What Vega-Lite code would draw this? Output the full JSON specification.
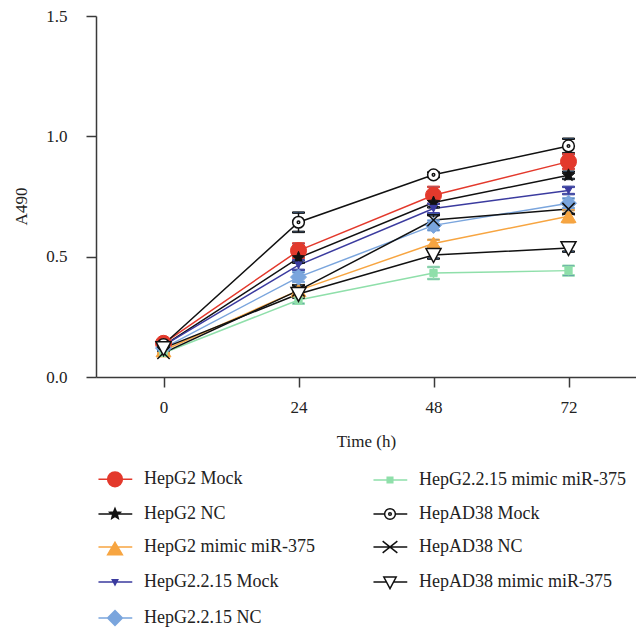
{
  "$schema": "https://vega.github.io/schema/vega-lite/v6.json",
  "autosize": "none",
  "padding": {"left": 96, "top": 16, "right": 0, "bottom": 251},
  "width": 540,
  "height": 361,
  "background": "white",
  "config": {
    "view": {"stroke": null},
    "font": "Liberation Serif",
    "axis": {
      "grid": false,
      "domainColor": "#3a3a3a",
      "domainWidth": 1.5,
      "tickColor": "#3a3a3a",
      "tickWidth": 1.5,
      "tickSize": 10,
      "labelFont": "Liberation Serif",
      "labelFontSize": 17,
      "labelColor": "#222222",
      "titleFont": "Liberation Serif",
      "titleFontSize": 17,
      "titleFontWeight": "normal",
      "titleColor": "#222222"
    }
  },
  "data": {
    "values": [
      {"series": "HepG2 Mock", "t": 0, "a490": 0.14, "err": 0.01},
      {"series": "HepG2 Mock", "t": 24, "a490": 0.525, "err": 0.03},
      {"series": "HepG2 Mock", "t": 48, "a490": 0.755, "err": 0.035},
      {"series": "HepG2 Mock", "t": 72, "a490": 0.895, "err": 0.03},
      {"series": "HepG2 NC", "t": 0, "a490": 0.13, "err": 0.01},
      {"series": "HepG2 NC", "t": 24, "a490": 0.495, "err": 0.02},
      {"series": "HepG2 NC", "t": 48, "a490": 0.725, "err": 0.02},
      {"series": "HepG2 NC", "t": 72, "a490": 0.838, "err": 0.015},
      {"series": "HepG2 mimic miR-375", "t": 0, "a490": 0.11, "err": 0.01},
      {"series": "HepG2 mimic miR-375", "t": 24, "a490": 0.36, "err": 0.02},
      {"series": "HepG2 mimic miR-375", "t": 48, "a490": 0.555, "err": 0.015},
      {"series": "HepG2 mimic miR-375", "t": 72, "a490": 0.668, "err": 0.025},
      {"series": "HepG2.2.15 Mock", "t": 0, "a490": 0.13, "err": 0.01},
      {"series": "HepG2.2.15 Mock", "t": 24, "a490": 0.465, "err": 0.02},
      {"series": "HepG2.2.15 Mock", "t": 48, "a490": 0.7, "err": 0.02},
      {"series": "HepG2.2.15 Mock", "t": 72, "a490": 0.775, "err": 0.015},
      {"series": "HepG2.2.15 NC", "t": 0, "a490": 0.12, "err": 0.01},
      {"series": "HepG2.2.15 NC", "t": 24, "a490": 0.415, "err": 0.02},
      {"series": "HepG2.2.15 NC", "t": 48, "a490": 0.63, "err": 0.02},
      {"series": "HepG2.2.15 NC", "t": 72, "a490": 0.722, "err": 0.02},
      {"series": "HepG2.2.15 mimic miR-375", "t": 0, "a490": 0.1, "err": 0.01},
      {"series": "HepG2.2.15 mimic miR-375", "t": 24, "a490": 0.32, "err": 0.015},
      {"series": "HepG2.2.15 mimic miR-375", "t": 48, "a490": 0.432, "err": 0.025},
      {"series": "HepG2.2.15 mimic miR-375", "t": 72, "a490": 0.442, "err": 0.02},
      {"series": "HepAD38 Mock", "t": 0, "a490": 0.135, "err": 0.01},
      {"series": "HepAD38 Mock", "t": 24, "a490": 0.643, "err": 0.04},
      {"series": "HepAD38 Mock", "t": 48, "a490": 0.84, "err": 0.01},
      {"series": "HepAD38 Mock", "t": 72, "a490": 0.96, "err": 0.03},
      {"series": "HepAD38 NC", "t": 0, "a490": 0.1, "err": 0.01},
      {"series": "HepAD38 NC", "t": 24, "a490": 0.36, "err": 0.02},
      {"series": "HepAD38 NC", "t": 48, "a490": 0.652, "err": 0.02},
      {"series": "HepAD38 NC", "t": 72, "a490": 0.698, "err": 0.02},
      {"series": "HepAD38 mimic miR-375", "t": 0, "a490": 0.12, "err": 0.01},
      {"series": "HepAD38 mimic miR-375", "t": 24, "a490": 0.345, "err": 0.015},
      {"series": "HepAD38 mimic miR-375", "t": 48, "a490": 0.507, "err": 0.015},
      {"series": "HepAD38 mimic miR-375", "t": 72, "a490": 0.536, "err": 0.015}
    ]
  },
  "layer": [
    {
      "mark": {"type": "line", "strokeWidth": 1.5, "opacity": 1},
      "encoding": {
        "x": {"field": "t", "type": "quantitative", "title": "Time (h)",
          "scale": {"domain": [-12, 84], "nice": false, "zero": false},
          "axis": {"values": [0, 24, 48, 72], "labelPadding": 12, "labelFlush": false, "titleY": 69, "titleBaseline": "alphabetic"}},
        "y": {"field": "a490", "type": "quantitative", "title": "A490",
          "scale": {"domain": [0, 1.5], "nice": false},
          "axis": {"values": [0, 0.5, 1, 1.5], "format": ".1f", "labelPadding": 19, "titleX": -70, "titleY": 190, "titleAlign": "center", "titleBaseline": "alphabetic", "titleAngle": -90}},
        "stroke": {"field": "series", "type": "nominal",
          "scale": {"domain": ["HepG2 Mock", "HepG2 NC", "HepG2 mimic miR-375", "HepG2.2.15 Mock", "HepG2.2.15 NC", "HepG2.2.15 mimic miR-375", "HepAD38 Mock", "HepAD38 NC", "HepAD38 mimic miR-375"],
            "range": ["#e3392c", "#111111", "#f7a541", "#3b3b9f", "#7aa5dd", "#8fdfaa", "#111111", "#111111", "#111111"]}}
      }
    },
    {
      "mark": {"type": "errorbar", "thickness": 1.5, "opacity": 1, "rule": {"opacity": 1}, "ticks": {"size": 12, "thickness": 1.5, "opacity": 1}},
      "encoding": {
        "x": {"field": "t", "type": "quantitative"},
        "y": {"field": "a490", "type": "quantitative", "title": "A490"},
        "yError": {"field": "err"},
        "stroke": {"field": "series", "type": "nominal"}
      }
    },
    {
      "transform": [{"filter": {"field": "series", "equal": "HepG2 Mock"}}],
      "mark": {"type": "point", "shape": "circle", "size": 256, "filled": true, "fill": "#e3392c", "stroke": "#e3392c", "strokeWidth": 1, "opacity": 1},
      "encoding": {"x": {"field": "t", "type": "quantitative"}, "y": {"field": "a490", "type": "quantitative"}}
    },
    {
      "transform": [{"filter": {"field": "series", "equal": "HepG2 NC"}}],
      "mark": {"type": "point", "shape": "M0,-1L0.264,-0.364L0.951,-0.309L0.428,0.139L0.588,0.809L0,0.45L-0.588,0.809L-0.428,0.139L-0.951,-0.309L-0.264,-0.364Z", "size": 169, "filled": true, "fill": "#111111", "stroke": "#111111", "strokeWidth": 1, "opacity": 1},
      "encoding": {"x": {"field": "t", "type": "quantitative"}, "y": {"field": "a490", "type": "quantitative"}}
    },
    {
      "transform": [{"filter": {"field": "series", "equal": "HepG2 mimic miR-375"}}],
      "mark": {"type": "point", "shape": "M0,-0.85L1,0.85L-1,0.85Z", "size": 225, "filled": true, "fill": "#f7a541", "stroke": "#f7a541", "strokeWidth": 1, "opacity": 1},
      "encoding": {"x": {"field": "t", "type": "quantitative"}, "y": {"field": "a490", "type": "quantitative"}}
    },
    {
      "transform": [{"filter": {"field": "series", "equal": "HepG2.2.15 Mock"}}],
      "mark": {"type": "point", "shape": "M0,0.85L1,-0.85L-1,-0.85Z", "size": 56, "filled": true, "fill": "#3b3b9f", "stroke": "#3b3b9f", "strokeWidth": 1, "opacity": 1},
      "encoding": {"x": {"field": "t", "type": "quantitative"}, "y": {"field": "a490", "type": "quantitative"}}
    },
    {
      "transform": [{"filter": {"field": "series", "equal": "HepG2.2.15 NC"}}],
      "mark": {"type": "point", "shape": "M0,-1L1,0L0,1L-1,0Z", "size": 256, "filled": true, "fill": "#7aa5dd", "stroke": "#7aa5dd", "strokeWidth": 1, "opacity": 1},
      "encoding": {"x": {"field": "t", "type": "quantitative"}, "y": {"field": "a490", "type": "quantitative"}}
    },
    {
      "transform": [{"filter": {"field": "series", "equal": "HepG2.2.15 mimic miR-375"}}],
      "mark": {"type": "point", "shape": "square", "size": 53, "filled": true, "fill": "#8fdfaa", "stroke": "#8fdfaa", "strokeWidth": 1, "opacity": 1},
      "encoding": {"x": {"field": "t", "type": "quantitative"}, "y": {"field": "a490", "type": "quantitative"}}
    },
    {
      "transform": [{"filter": {"field": "series", "equal": "HepAD38 Mock"}}],
      "mark": {"type": "point", "shape": "M1,0A1,1 0 1,1 -1,0A1,1 0 1,1 1,0ZM0.22,0A0.22,0.22 0 1,1 -0.22,0A0.22,0.22 0 1,1 0.22,0Z", "size": 137, "filled": true, "fill": "#ffffff", "stroke": "#111111", "strokeWidth": 1.5, "opacity": 1},
      "encoding": {"x": {"field": "t", "type": "quantitative"}, "y": {"field": "a490", "type": "quantitative"}}
    },
    {
      "transform": [{"filter": {"field": "series", "equal": "HepAD38 NC"}}],
      "mark": {"type": "point", "shape": "M-1,-1L1,1M-1,1L1,-1", "size": 151, "filled": false, "stroke": "#111111", "strokeWidth": 1.5, "opacity": 1},
      "encoding": {"x": {"field": "t", "type": "quantitative"}, "y": {"field": "a490", "type": "quantitative"}}
    },
    {
      "transform": [{"filter": {"field": "series", "equal": "HepAD38 mimic miR-375"}}],
      "mark": {"type": "point", "shape": "M-1,-0.85L1,-0.85L0,1Z", "size": 225, "filled": true, "fill": "#ffffff", "stroke": "#111111", "strokeWidth": 1.5, "opacity": 1},
      "encoding": {"x": {"field": "t", "type": "quantitative"}, "y": {"field": "a490", "type": "quantitative"}}
    },
    {
      "transform": [{"filter": {"field": "t", "equal": -1}}],
      "mark": {"type": "point", "filled": true, "opacity": 1},
      "encoding": {
        "x": {"field": "t", "type": "quantitative"},
        "y": {"field": "a490", "type": "quantitative"},
        "shape": {"field": "series", "type": "nominal",
          "scale": {"domain": ["HepG2 Mock", "HepG2 NC", "HepG2 mimic miR-375", "HepG2.2.15 Mock", "HepG2.2.15 NC", "HepG2.2.15 mimic miR-375", "HepAD38 Mock", "HepAD38 NC", "HepAD38 mimic miR-375"],
            "range": [
              "M-2.25,0H2.35M1,0A1,1 0 1,1 -1,0A1,1 0 1,1 1,0Z",
              "M-2.25,0H2.35M0,-0.75L0.194,-0.267L0.713,-0.232L0.314,0.102L0.441,0.607L0,0.33L-0.441,0.607L-0.314,0.102L-0.713,-0.232L-0.194,-0.267Z",
              "M-2.25,0H2.35M0,-0.64L1,1.04L-1,1.04Z",
              "M-2.25,0H2.35M-0.37,-0.3L0.37,-0.3L0,0.4Z",
              "M-2.25,0H2.35M0,-1L1,0L0,1L-1,0Z",
              "M-2.25,0H2.35M-0.38,-0.38H0.38V0.38H-0.38Z",
              "M-2.25,0H-0.73M0.73,0H2.35M0.73,0A0.73,0.73 0 1,1 -0.73,0A0.73,0.73 0 1,1 0.73,0ZM0.18,0A0.18,0.18 0 1,1 -0.18,0A0.18,0.18 0 1,1 0.18,0Z",
              "M-2.25,0H2.35M-1,-0.8L1,0.8M-1,0.8L1,-0.8",
              "M-2.25,0H-0.48M0.48,0H2.35M-0.84,-0.68L0.84,-0.68L0,0.9Z"
            ]},
          "legend": {
            "title": null,
            "orient": "none",
            "legendX": 10,
            "legendY": 454,
            "columns": 2,
            "columnPadding": 55,
            "rowPadding": 15,
            "padding": 0,
            "labelFont": "Liberation Serif",
            "labelFontSize": 18,
            "labelColor": "#222222",
            "labelOffset": 20,
            "labelLimit": 0,
            "symbolSize": 216,
            "symbolStrokeWidth": 1.5,
            "symbolOpacity": 1,
            "encode": {"symbols": {"update": {"opacity": {"value": 1}, "fillOpacity": {"value": 1}, "strokeOpacity": {"value": 1}}}}
          }},
        "fill": {"field": "series", "type": "nominal",
          "scale": {"domain": ["HepG2 Mock", "HepG2 NC", "HepG2 mimic miR-375", "HepG2.2.15 Mock", "HepG2.2.15 NC", "HepG2.2.15 mimic miR-375", "HepAD38 Mock", "HepAD38 NC", "HepAD38 mimic miR-375"],
            "range": ["#e3392c", "#111111", "#f7a541", "#3b3b9f", "#7aa5dd", "#8fdfaa", "#ffffff", "#ffffff", "#ffffff"]}},
        "stroke": {"field": "series", "type": "nominal"}
      }
    }
  ]
}
